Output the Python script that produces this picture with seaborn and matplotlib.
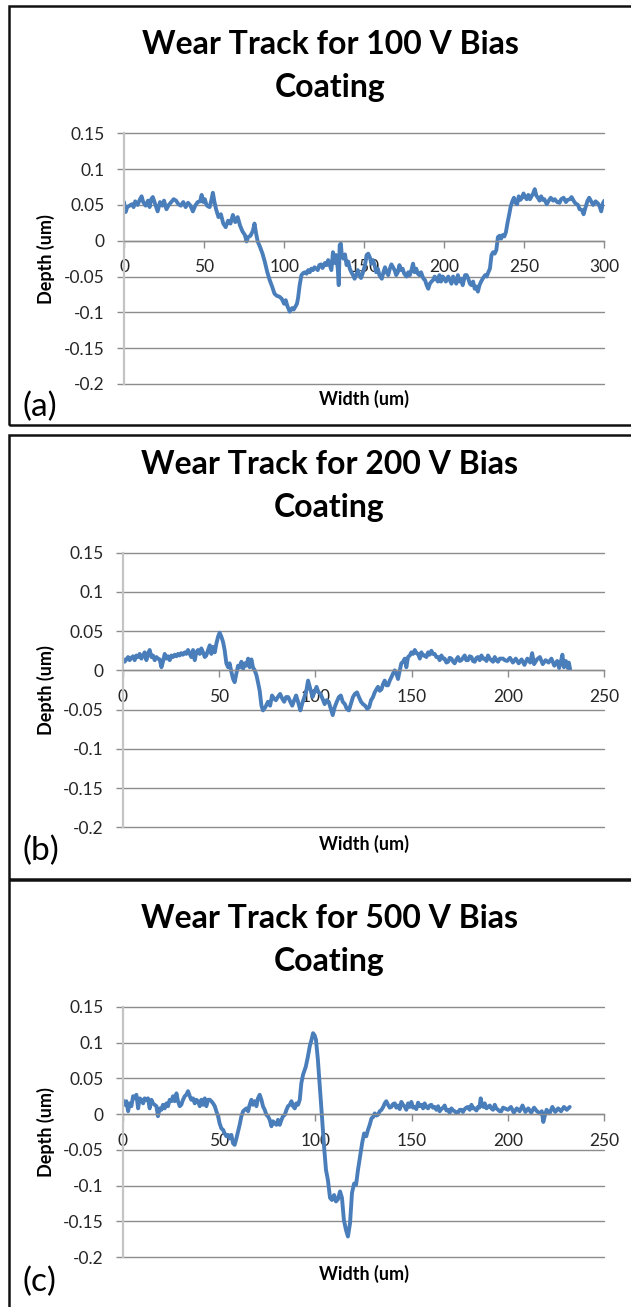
import matplotlib
matplotlib.use("Agg")
import matplotlib.pyplot as plt
from matplotlib.patches import Rectangle
import seaborn as sns

# ---------------------------------------------------------------------------
# Profilometer traces across the wear tracks (width and depth in um)
# ---------------------------------------------------------------------------
width_100v = [
    0, 1, 2, 3.5, 5, 6, 7, 8.5, 10, 11,
    12, 13.5, 15, 16, 17, 18, 19.5, 21, 22.5, 24,
    25, 26.5, 28, 29.5, 31, 32.5, 34, 35.5, 37, 38.5,
    40, 41.5, 43, 44.5, 46, 47.5, 48.5, 49.5, 50.5, 51.5,
    52.5, 53.5, 54.5, 55.5, 56.5, 57.5, 59, 60.5, 62, 63.5,
    65, 66.5, 68, 69.5, 71, 72.5, 74, 75.5, 76.5, 77.5,
    79, 80.5, 81.5, 82.5, 83.5, 85, 86.5, 88, 89.5, 91,
    92.5, 94, 95.5, 97, 98.5, 100, 101, 102, 103.5, 105,
    106, 107, 108, 108.7, 109.7, 110.8, 112, 113, 114, 115,
    116, 117, 118, 119, 120, 121, 122, 123, 124, 125.5,
    126.5, 127.5, 128.5, 129.5, 130.5, 131.5, 132.5, 133.5, 134.1, 134.7,
    135.4, 136, 137, 138, 139, 140, 141, 142, 143, 144,
    145, 146, 147, 148, 149, 150.5, 151.5, 152.5, 153.5, 154.5,
    155.5, 156.5, 157.5, 158.5, 159.5, 161, 162, 163, 164, 165,
    166, 167, 168, 169, 170, 171, 172, 173, 174, 175,
    176.5, 177.5, 178.5, 179.5, 180.5, 181.5, 182.5, 183.5, 184.5, 185.5,
    187, 188, 189, 190, 191, 192, 193, 194, 195, 196,
    197, 198, 199, 200, 201, 202.5, 203.5, 204.5, 205.5, 206.5,
    207.5, 208.5, 209.5, 210.5, 211.5, 213, 214, 215, 216, 217,
    218, 219, 220, 221, 222, 223, 224, 225.5, 226.5, 227.5,
    228.5, 229.5, 230.5, 231.5, 232.5, 233.5, 234.5, 235.5, 236.5, 237.5,
    238.5, 239.5, 240.5, 241.5, 242.5, 243.5, 244.5, 245.5, 246.5, 247.5,
    248.5, 249.5, 250.5, 251.5, 252.5, 253.5, 254.5, 255.5, 256.5, 257.5,
    258.5, 259.5, 260.5, 261.5, 262.5, 264, 265, 266.5, 268, 269,
    270.5, 272, 273, 274.5, 276, 277, 278.5, 279.5, 281, 282,
    283.5, 284.5, 286, 287, 288, 289.5, 290.5, 292, 293, 294.5,
    296, 297, 298, 299, 300,
]
depth_100v = [
    0.054, 0.040, 0.047, 0.049, 0.051, 0.047, 0.055, 0.050, 0.058, 0.062,
    0.054, 0.049, 0.056, 0.047, 0.058, 0.061, 0.051, 0.041, 0.054, 0.049,
    0.056, 0.044, 0.050, 0.054, 0.058, 0.056, 0.051, 0.049, 0.054, 0.047,
    0.053, 0.049, 0.041, 0.049, 0.054, 0.055, 0.064, 0.054, 0.058, 0.050,
    0.048, 0.047, 0.056, 0.067, 0.054, 0.044, 0.033, 0.037, 0.024, 0.019,
    0.028, 0.024, 0.036, 0.026, 0.033, 0.021, 0.013, 0.008, -0.001, 0.005,
    0.007, 0.014, 0.024, 0.010, -0.001, -0.009, -0.018, -0.030, -0.044, -0.055,
    -0.064, -0.074, -0.077, -0.078, -0.081, -0.088, -0.083, -0.091, -0.099, -0.094,
    -0.096, -0.092, -0.088, -0.080, -0.062, -0.048, -0.045, -0.044, -0.046, -0.041,
    -0.044, -0.039, -0.041, -0.037, -0.039, -0.041, -0.034, -0.033, -0.038, -0.031,
    -0.034, -0.027, -0.034, -0.041, -0.016, -0.031, -0.020, -0.039, -0.062, -0.006,
    -0.004, -0.020, -0.025, -0.019, -0.034, -0.029, -0.039, -0.044, -0.048, -0.053,
    -0.048, -0.041, -0.048, -0.052, -0.046, -0.034, -0.020, -0.018, -0.023, -0.032,
    -0.027, -0.034, -0.044, -0.039, -0.048, -0.053, -0.044, -0.037, -0.044, -0.048,
    -0.039, -0.033, -0.037, -0.041, -0.048, -0.044, -0.034, -0.041, -0.039, -0.046,
    -0.050, -0.044, -0.048, -0.041, -0.032, -0.044, -0.039, -0.046, -0.048, -0.044,
    -0.053, -0.055, -0.062, -0.067, -0.060, -0.057, -0.055, -0.050, -0.053, -0.057,
    -0.048, -0.057, -0.050, -0.053, -0.057, -0.050, -0.055, -0.060, -0.050, -0.055,
    -0.060, -0.048, -0.057, -0.053, -0.062, -0.048, -0.048, -0.053, -0.060, -0.062,
    -0.057, -0.067, -0.064, -0.071, -0.062, -0.057, -0.053, -0.048, -0.050, -0.044,
    -0.039, -0.020, -0.016, -0.018, -0.013, 0.005, 0.007, 0.003, 0.008, 0.006,
    0.012, 0.025, 0.036, 0.048, 0.055, 0.060, 0.053, 0.051, 0.062, 0.057,
    0.060, 0.066, 0.061, 0.058, 0.064, 0.058, 0.062, 0.066, 0.072, 0.063,
    0.060, 0.056, 0.062, 0.057, 0.058, 0.051, 0.055, 0.060, 0.056, 0.058,
    0.054, 0.053, 0.058, 0.060, 0.054, 0.057, 0.058, 0.061, 0.055, 0.052,
    0.050, 0.044, 0.043, 0.037, 0.045, 0.056, 0.060, 0.054, 0.050, 0.055,
    0.052, 0.048, 0.041, 0.052, 0.056,
]

width_200v = [
    0, 1, 1.9, 2.8, 3.6, 4.5, 5.4, 6.2, 7.1, 8,
    8.8, 9.7, 10.6, 11.4, 12.3, 13.1, 14, 14.9, 15.7, 16.6,
    17.5, 18.3, 19.2, 20.1, 20.9, 21.8, 22.7, 23.5, 24.4, 25.3,
    26.1, 27, 27.9, 28.7, 29.6, 30.4, 31.3, 32.2, 33, 33.9,
    34.8, 35.6, 36.5, 37.4, 38.2, 39.1, 40, 40.8, 41.7, 42.6,
    43.4, 44.3, 45.2, 46, 46.9, 47.8, 48.6, 49.5, 50.3, 51.2,
    52.1, 52.9, 53.8, 54.7, 55.5, 56.4, 57.3, 58.1, 59, 59.9,
    60.7, 61.6, 62.5, 63.3, 64.2, 65.1, 65.9, 66.8, 67.6, 68.5,
    69.4, 70.2, 71.1, 72, 72.8, 74, 75.4, 76.5, 77.5, 78.5,
    79.5, 80.5, 81.7, 82.8, 83.8, 84.8, 85.9, 87, 88, 89,
    90, 91, 92.2, 93.2, 94.3, 95.3, 96.2, 97.4, 98.5, 99.5,
    100.6, 101.6, 102.7, 103.7, 104.8, 105.8, 106.9, 108, 109, 110,
    111.1, 112.2, 113.2, 114.2, 115.3, 116.3, 117.4, 118.4, 119.5, 120.5,
    121.6, 122.6, 123.7, 124.7, 125.8, 126.9, 127.9, 128.9, 129.9, 130.8,
    131.7, 132.5, 133.4, 134.3, 135.2, 136, 136.9, 137.7, 138.6, 139.4,
    140.3, 141.2, 142, 142.9, 143.8, 144.6, 145.5, 146.4, 147.2, 148.1,
    149, 149.8, 150.7, 151.6, 152.4, 153.3, 154.2, 155, 155.9, 156.7,
    157.6, 158.5, 159.3, 160.2, 161, 161.9, 162.8, 163.7, 164.5, 165.4,
    166.3, 167.1, 168, 168.9, 169.7, 170.6, 171.5, 172.3, 173.2, 174,
    174.9, 175.8, 176.6, 177.5, 178.3, 179.2, 180.1, 181, 181.8, 182.7,
    183.6, 184.4, 185.3, 186.2, 187, 187.9, 188.8, 189.6, 190.5, 191.3,
    192.2, 193.1, 193.9, 194.8, 195.7, 196.5, 197.4, 198.3, 199.5, 201,
    202.5, 204, 205.5, 207, 208.5, 210, 211.5, 212.5, 213.5, 215,
    216.5, 218, 219.5, 221, 222.5, 224, 225.5, 226.5, 227.5, 228.2,
    229, 230, 231, 231.5, 232.2,
]
depth_200v = [
    0.015, 0.011, 0.014, 0.017, 0.013, 0.016, 0.018, 0.013, 0.019, 0.017,
    0.021, 0.015, 0.019, 0.023, 0.013, 0.021, 0.026, 0.017, 0.019, 0.013,
    0.017, 0.015, 0.014, 0.004, 0.011, 0.021, 0.015, 0.018, 0.013, 0.019,
    0.017, 0.020, 0.018, 0.021, 0.019, 0.022, 0.020, 0.023, 0.021, 0.026,
    0.021, 0.017, 0.026, 0.013, 0.023, 0.026, 0.021, 0.028, 0.023, 0.017,
    0.019, 0.026, 0.032, 0.021, 0.030, 0.023, 0.034, 0.043, 0.048, 0.043,
    0.036, 0.026, 0.009, 0.004, 0.009, -0.002, -0.011, -0.015, -0.004, 0.006,
    0.004, 0.011, 0.002, 0.009, 0.006, 0.015, 0.004, 0.014, 0.004, 0.000,
    -0.006, -0.015, -0.026, -0.045, -0.051, -0.047, -0.040, -0.045, -0.032, -0.036,
    -0.038, -0.034, -0.030, -0.036, -0.040, -0.034, -0.034, -0.040, -0.045, -0.038,
    -0.032, -0.040, -0.051, -0.042, -0.034, -0.026, -0.013, -0.024, -0.034, -0.028,
    -0.021, -0.028, -0.030, -0.036, -0.043, -0.038, -0.040, -0.049, -0.057, -0.047,
    -0.040, -0.034, -0.032, -0.040, -0.043, -0.049, -0.051, -0.043, -0.034, -0.030,
    -0.028, -0.034, -0.040, -0.043, -0.045, -0.049, -0.047, -0.038, -0.034, -0.028,
    -0.024, -0.021, -0.026, -0.024, -0.017, -0.013, -0.019, -0.019, -0.013, -0.009,
    -0.004, 0.000, -0.004, -0.011, 0.000, 0.009, 0.011, 0.015, 0.004, 0.017,
    0.019, 0.023, 0.021, 0.026, 0.022, 0.021, 0.015, 0.023, 0.019, 0.019,
    0.017, 0.023, 0.020, 0.025, 0.021, 0.021, 0.017, 0.017, 0.013, 0.019,
    0.015, 0.015, 0.010, 0.011, 0.016, 0.015, 0.011, 0.009, 0.014, 0.017,
    0.012, 0.013, 0.016, 0.019, 0.013, 0.013, 0.018, 0.017, 0.012, 0.011,
    0.016, 0.017, 0.013, 0.019, 0.015, 0.015, 0.012, 0.019, 0.015, 0.013,
    0.011, 0.017, 0.013, 0.011, 0.015, 0.015, 0.015, 0.013, 0.012, 0.016,
    0.010, 0.015, 0.009, 0.014, 0.007, 0.015, 0.010, 0.022, 0.008, 0.014,
    0.017, 0.008, 0.013, 0.010, 0.015, 0.006, 0.012, 0.003, 0.012, 0.020,
    0.004, 0.012, 0.003, 0.010, 0.002,
]

width_500v = [
    0, 1, 1.9, 2.8, 3.6, 4.5, 5.4, 6.2, 7.1, 8,
    8.8, 9.7, 10.6, 11.4, 12.3, 13.1, 14, 14.9, 15.7, 16.6,
    17.5, 18.3, 19.2, 20.1, 20.9, 21.8, 22.7, 23.5, 24.4, 25.3,
    26.1, 27, 27.9, 28.7, 29.6, 30.4, 31.3, 32.2, 33, 33.9,
    34.8, 35.6, 36.5, 37.4, 38.2, 39.1, 40, 40.8, 41.7, 42.6,
    43.4, 44.3, 45.2, 46, 46.9, 47.8, 48.6, 49.5, 50.3, 51.2,
    52.1, 52.9, 53.8, 54.7, 55.5, 56.4, 57.3, 58.1, 59, 59.9,
    60.7, 61.6, 62.5, 63.3, 64.2, 65.1, 65.9, 66.8, 67.6, 68.5,
    69.4, 70.2, 71.1, 72, 72.8, 73.7, 74.6, 75.4, 76.3, 77.2,
    78, 78.9, 79.8, 80.6, 81.5, 82.4, 83.2, 84.1, 85, 85.8,
    86.7, 87.6, 88.4, 89.3, 90.1, 91, 91.9, 92.7, 93.6, 95,
    96.1, 97.1, 98, 98.8, 99.6, 100.3, 101.3, 102.3, 103.4, 104.5,
    105.5, 106.5, 107.6, 108.6, 109.7, 110.7, 111.7, 112.8, 113.8, 114.8,
    115.9, 116.9, 118, 119, 120.1, 121.1, 122.1, 123.2, 124.3, 125.3,
    126.4, 127.3, 128.2, 129.1, 130, 130.8, 131.7, 132.5, 133.4, 134.3,
    135.2, 136, 136.8, 137.7, 138.6, 139.4, 140.3, 141.2, 142, 142.9,
    143.8, 144.6, 145.5, 146.4, 147.2, 148.1, 149, 149.8, 150.7, 151.6,
    152.4, 153.3, 154.2, 155, 155.9, 156.7, 157.6, 158.5, 159.3, 160.2,
    161, 161.9, 162.8, 163.7, 164.5, 165.4, 166.3, 167.1, 168, 168.9,
    169.7, 170.6, 171.5, 172.3, 173.2, 174, 174.9, 175.8, 176.6, 177.5,
    178.3, 179.2, 180.1, 181, 181.8, 182.7, 183.6, 184.4, 185.1, 185.8,
    186.5, 187.2, 187.9, 188.8, 189.6, 190.5, 191.3, 192.2, 193.1, 193.9,
    194.8, 195.7, 196.5, 197.4, 198.3, 200, 201.5, 203, 204.5, 206,
    207.5, 209, 210.5, 212, 213.5, 215, 216.5, 217.5, 218.3, 219,
    220, 221.5, 223, 224.5, 226, 227.5, 229, 230.5, 232,
]
depth_500v = [
    0.020, 0.013, 0.018, 0.004, 0.015, 0.011, 0.025, 0.022, 0.027, 0.008,
    0.022, 0.020, 0.015, 0.022, 0.020, 0.022, 0.008, 0.020, 0.015, 0.013,
    0.011, -0.003, 0.008, 0.006, 0.013, 0.008, 0.015, 0.011, 0.020, 0.018,
    0.025, 0.018, 0.029, 0.018, 0.011, 0.013, 0.020, 0.025, 0.027, 0.032,
    0.025, 0.020, 0.022, 0.015, 0.020, 0.018, 0.011, 0.020, 0.013, 0.022,
    0.011, 0.020, 0.020, 0.018, 0.015, 0.011, 0.004, -0.003, -0.013, -0.020,
    -0.022, -0.027, -0.031, -0.029, -0.034, -0.029, -0.041, -0.043, -0.034, -0.024,
    -0.015, -0.003, 0.004, 0.006, 0.008, 0.004, 0.013, 0.020, 0.013, 0.018,
    0.011, 0.022, 0.027, 0.020, 0.011, 0.006, -0.001, -0.003, -0.008, -0.017,
    -0.010, -0.013, -0.015, -0.008, -0.015, -0.008, -0.003, -0.001, 0.006, 0.011,
    0.013, 0.018, 0.011, 0.008, 0.015, 0.013, 0.020, 0.043, 0.055, 0.066,
    0.080, 0.095, 0.104, 0.113, 0.110, 0.104, 0.076, 0.039, -0.003, -0.045,
    -0.078, -0.092, -0.117, -0.120, -0.113, -0.122, -0.119, -0.108, -0.117, -0.148,
    -0.162, -0.171, -0.152, -0.110, -0.097, -0.099, -0.078, -0.059, -0.040, -0.027,
    -0.031, -0.022, -0.015, -0.006, -0.004, 0.001, -0.002, -0.001, 0.004, 0.006,
    0.010, 0.015, 0.018, 0.013, 0.009, 0.010, 0.014, 0.015, 0.009, 0.012,
    0.007, 0.017, 0.013, 0.010, 0.006, 0.015, 0.010, 0.017, 0.009, 0.010,
    0.007, 0.016, 0.011, 0.013, 0.008, 0.015, 0.010, 0.008, 0.012, 0.013,
    0.009, 0.010, 0.006, 0.011, 0.004, 0.007, 0.009, 0.012, 0.005, 0.006,
    0.002, 0.008, 0.005, 0.004, 0.002, 0.002, 0.006, 0.006, 0.003, 0.007,
    0.009, 0.010, 0.006, 0.013, 0.008, 0.008, 0.005, 0.010, 0.009, 0.022,
    0.012, 0.010, 0.015, 0.008, 0.010, 0.012, 0.008, 0.006, 0.013, 0.008,
    0.006, 0.004, 0.004, 0.009, 0.008, 0.006, 0.010, 0.002, 0.008, 0.004,
    0.012, 0.003, 0.008, 0.002, 0.009, 0.004, 0.001, 0.004, -0.011, -0.003,
    0.006, 0.001, 0.010, 0.003, 0.008, 0.004, 0.010, 0.006, 0.010,
]

# Axis ticks and labels
depth_ticks = [0.15, 0.1, 0.05, 0, -0.05, -0.1, -0.15, -0.2]
depth_tick_labels = ["0.15", "0.1", "0.05", "0", "-0.05", "-0.1", "-0.15", "-0.2"]
width_ticks_100v = [0, 50, 100, 150, 200, 250, 300]
width_ticks_short = [0, 50, 100, 150, 200, 250]
titles = [
    "Wear Track for 100 V Bias\nCoating",
    "Wear Track for 200 V Bias\nCoating",
    "Wear Track for 500 V Bias\nCoating",
]
panel_tags = ["(a)", "(b)", "(c)"]
x_label = "Width (um)"
y_label = "Depth (um)"

# ---------------------------------------------------------------------------
sns.set_style("white")
plt.rcParams["font.family"] = ["Lato", "DejaVu Sans"]

LINE = "#4a7ebb"
GRID = "#8c8c8c"
AXIS_V = "#c4c4c4"
TEXT = "#262626"

W, H = 631, 1307
fig = plt.figure(figsize=(W / 100, H / 100), dpi=100)


def fx(px):
    return px / W


def fy(py):
    return 1 - py / H


# pixel layout of each panel: plot box (left, right, top, bottom),
# title centre, x-label centre, tag centre, frame top/bottom
layout = [
    dict(box=(124, 604.4, 133.3, 384.0), title_y=66, xlab_y=399, tag_y=407, frame=(6, 425)),
    dict(box=(122.7, 604.4, 552.7, 827.3), title_y=486, xlab_y=844, tag_y=851, frame=(435, 879)),
    dict(box=(122.7, 604.4, 1006.7, 1257.3), title_y=940, xlab_y=1274, tag_y=1282, frame=(880, 1330)),
]
series = [
    (width_100v, depth_100v, 300, width_ticks_100v),
    (width_200v, depth_200v, 250, width_ticks_short),
    (width_500v, depth_500v, 250, width_ticks_short),
]

for i, ((xs, ys, xmax, xticks), lay) in enumerate(zip(series, layout)):
    left, right, top, bottom = lay["box"]

    # outer frame of the panel
    ftop, fbot = lay["frame"]
    fig.add_artist(Rectangle((fx(8.5), fy(fbot)), fx(700) - fx(8.5), (fbot - ftop) / H,
                             transform=fig.transFigure, fill=False,
                             edgecolor="#111111", linewidth=1.8, clip_on=False))

    ax = fig.add_axes([fx(left), fy(bottom), fx(right) - fx(left), (bottom - top) / H])
    ax.set_facecolor("none")
    sns.lineplot(x=xs, y=ys, ax=ax, color=LINE, linewidth=2.8,
                 estimator=None, sort=False)

    ax.set_xlim(0, xmax)
    ax.set_ylim(-0.2, 0.15)
    ax.set_yticks(depth_ticks)
    ax.set_yticklabels(depth_tick_labels)
    ax.set_xticks(xticks)
    ax.set_xticklabels([str(v) for v in xticks])
    ax.set_xlabel("")
    ax.set_ylabel("")

    ax.grid(axis="y", color=GRID, linewidth=1.0)
    ax.grid(axis="x", visible=False)
    for gl in ax.yaxis.get_gridlines():
        gl.set_clip_on(False)
    ax.set_axisbelow(True)

    for side in ("top", "right"):
        ax.spines[side].set_visible(False)
    ax.spines["bottom"].set_position(("data", 0))
    ax.spines["bottom"].set_color(GRID)
    ax.spines["bottom"].set_linewidth(1.0)
    ax.spines["left"].set_color(AXIS_V)
    ax.spines["left"].set_linewidth(1.6)

    ax.tick_params(axis="y", direction="out", length=4.8, width=1.0, color=GRID,
                   pad=9, labelsize=12.5, labelcolor=TEXT, left=True)
    ax.tick_params(axis="x", direction="out", length=4.8, width=1.0, color=GRID,
                   pad=8.5, labelsize=12.5, labelcolor=TEXT, bottom=True)

    cx = (left + right) / 2
    fig.text(fx(cx - 34), fy(lay["title_y"]), titles[i], ha="center", va="center",
             fontsize=23, fontweight="bold", color="black", linespacing=1.55)
    fig.text(fx(cx), fy(lay["xlab_y"]), x_label, ha="center", va="center",
             fontsize=13, fontweight="bold", color="black")
    fig.text(fx(46), fy((top + bottom) / 2), y_label, ha="center", va="center",
             rotation=90, fontsize=13, fontweight="bold", color="black")
    fig.text(fx(22), fy(lay["tag_y"]), panel_tags[i], ha="left", va="center",
             fontsize=24, color="black")

fig.savefig("out.png", dpi=100)
